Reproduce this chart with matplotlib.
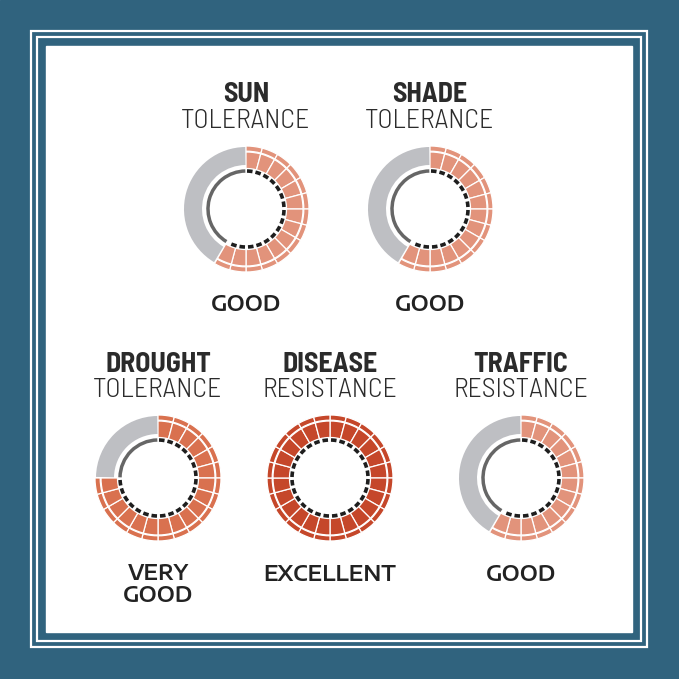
import matplotlib
matplotlib.use("Agg")
import matplotlib.pyplot as plt
from matplotlib import font_manager as fm
from matplotlib.patches import Wedge, Rectangle, Arc


# data
titles = ["SUN", "SHADE", "DROUGHT", "DISEASE", "TRAFFIC"]
subtitles = ["TOLERANCE", "TOLERANCE", "TOLERANCE", "RESISTANCE", "RESISTANCE"]
ratings = ["GOOD", "GOOD", "VERY\nGOOD", "EXCELLENT", "GOOD"]
filled = [14, 14, 18, 24, 14]          # segments out of 24
seg_colors = ["#E2937B", "#E2937B", "#D9714F", "#C5472A", "#E2937B"]

n_seg = 24
blue = "#30637E"
grey = "#BEBFC3"
cond = ["Barlow Semi Condensed", "Barlow Condensed", "DejaVu Sans"]

# a wide face with a static semibold file, if there is one
wide_file = None
for fam in ["Encode Sans Expanded", "Encode Sans Semi Expanded", "Poppins"]:
    for f in fm.fontManager.ttflist:
        if f.name == fam and f.style == "normal" and "[" not in f.fname \
                and f.weight in (600, "semibold"):
            wide_file = f.fname
            break
    if wide_file:
        break

# layout
centers = [(246, 209), (430, 209), (158, 478), (330, 478), (521, 478)]
title_y = [95, 95, 364, 364, 364]
sub_y = [121, 121, 390, 390, 390]
rate_y = [305, 305, 585, 575, 575]

fig = plt.figure(figsize=(6.79, 6.79), dpi=100)
ax = fig.add_axes([0, 0, 1, 1])
ax.set_xlim(0, 679)
ax.set_ylim(679, 0)
ax.set_aspect("equal")
ax.axis("off")

# frame
ax.add_patch(Rectangle((0, 0), 679, 679, color=blue, zorder=0))
ax.add_patch(Rectangle((31, 31), 616, 616, fill=False, ec="white", lw=1.6, zorder=1))
ax.add_patch(Rectangle((37, 37), 604, 604, fill=False, ec="white", lw=1.6, zorder=1))
ax.add_patch(Rectangle((46, 46), 586, 586, color="white", zorder=1))


def to_theta(a):
    # clockwise-from-top angle -> data angle (y axis is inverted)
    return a - 90


for i in range(len(titles)):
    cx, cy = centers[i]
    step = 360 / n_seg
    end = filled[i] * step
    # coloured segments
    for k in range(filled[i]):
        t1 = to_theta(k * step)
        t2 = to_theta((k + 1) * step)
        ax.add_patch(Wedge((cx, cy), 57, t1, t2, width=16.5, fc=seg_colors[i],
                           ec="white", lw=0.9, zorder=3))
        ax.add_patch(Wedge((cx, cy), 63, t1, t2, width=5.2, fc=seg_colors[i],
                           ec="white", lw=0.9, zorder=3))
    # grey remainder
    if filled[i] < n_seg:
        ax.add_patch(Wedge((cx, cy), 62, to_theta(end + 1), to_theta(359.3), width=18,
                           fc=grey, ec="none", zorder=3))
        ax.add_patch(Arc((cx, cy), 76, 76, theta1=to_theta(end + 1), theta2=to_theta(359),
                         color="#666666", lw=2.5, zorder=3))
    # dashed inner ring
    n_dash = 28
    d = 360 / n_dash
    k = 0
    while (k + 1) * d <= end + 0.5:
        ax.add_patch(Arc((cx, cy), 76, 76, theta1=to_theta(k * d + 1.5),
                         theta2=to_theta(k * d + d - 3.0), color="#1E1E1E", lw=2.6, zorder=3))
        k += 1

    ax.text(cx, title_y[i], titles[i], ha="center", va="center", fontsize=20,
            fontweight=700, family=cond, color="#2B2B2B")
    ax.text(cx, sub_y[i], subtitles[i], ha="center", va="center", fontsize=20,
            fontweight=300, family=cond, color="#2B2B2B")
    if wide_file:
        ax.text(cx, rate_y[i], ratings[i], ha="center", va="center", color="#222222",
                fontproperties=fm.FontProperties(fname=wide_file, size=15),
                linespacing=1.0)
    else:
        ax.text(cx, rate_y[i], ratings[i], ha="center", va="center", fontsize=15,
                fontweight="bold", family="DejaVu Sans", color="#222222",
                linespacing=1.0)

fig.savefig("out.png", dpi=100)
